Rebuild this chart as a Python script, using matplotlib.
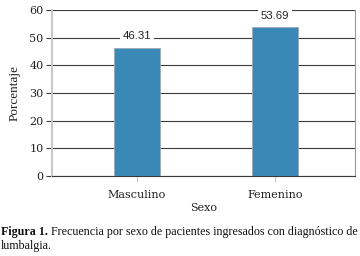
import matplotlib
matplotlib.use("Agg")
import matplotlib.pyplot as plt

categories = ["Masculino", "Femenino"]
values = [46.31, 53.69]
yticks = [0, 10, 20, 30, 40, 50, 60]
caption_bold = "Figura 1."
caption_rest = "Frecuencia por sexo de pacientes ingresados con diagnóstico de"
caption_line2 = "lumbalgia."

plt.rcParams['font.family'] = ['DejaVu Serif']

W, H = 360, 256
fig = plt.figure(figsize=(W/100, H/100), dpi=100)
ax = fig.add_axes([52/W, (H-176)/H, 303/W, 166/H])

x = list(range(len(categories)))
ax.bar(x, values, width=0.34, color='#3A88B5', edgecolor='#9aa9b4', linewidth=0.6, zorder=3)
ax.set_xlim(-0.616, 1.58)
ax.set_ylim(0, 60)
ax.set_yticks(yticks)
ax.yaxis.grid(True, color='#3a3a3a', linewidth=0.8, zorder=1)
ax.set_axisbelow(True)

for xi, v in zip(x, values):
    ax.text(xi, v + 4.3, f"{v:.2f}", ha='center', va='center', fontsize=8.2,
            family=['Liberation Sans'], color='#222222', zorder=4,
            bbox=dict(facecolor='white', edgecolor='none', pad=2))

ax.spines['top'].set_visible(False)
ax.spines['left'].set_color('#c8c8c8')
ax.spines['left'].set_linewidth(1.5)
ax.spines['right'].set_color('#9a9a9a')
ax.spines['right'].set_linewidth(0.8)
ax.spines['bottom'].set_color('#3a3a3a')
ax.spines['bottom'].set_linewidth(0.8)

ax.tick_params(axis='y', length=4, width=0.8, color='#3a3a3a', labelsize=8, pad=2, labelcolor='#222222')
ax.tick_params(axis='x', length=4, width=0.8, color='#c8c8c8', labelsize=8, pad=6, labelcolor='#222222')
ax.set_xticks(x)
ax.set_xticklabels(categories)
ax.set_xlabel("Sexo", fontsize=8, labelpad=2, color='#222222')
ax.set_ylabel("Porcentaje", family=['Liberation Serif'], fontsize=9.5, labelpad=6, color='#222222')

cap_family = ['Liberation Serif']
fig.canvas.draw()
r = fig.canvas.get_renderer()

def place(fs):
    t1 = fig.text(1/W, 1 - 232/H, caption_bold, fontsize=fs, fontweight='bold', family=cap_family,
                  va='center', ha='left', color='#111111')
    bb = t1.get_window_extent(r)
    t2 = fig.text((bb.x1 + 3)/W, 1 - 232/H, caption_rest, fontsize=fs, family=cap_family,
                  va='center', ha='left', color='#111111')
    return t1, t2

fs = 9.0
t1, t2 = place(fs)
end = t2.get_window_extent(r).x1
if end > 358:
    t1.remove(); t2.remove()
    fs = fs * (358 - 1) / (end - 1)
    t1, t2 = place(fs)
fig.text(1/W, 1 - 246/H, caption_line2, fontsize=fs, family=cap_family, va='center', ha='left', color='#111111')

fig.savefig("out.png", dpi=100, facecolor='white')
